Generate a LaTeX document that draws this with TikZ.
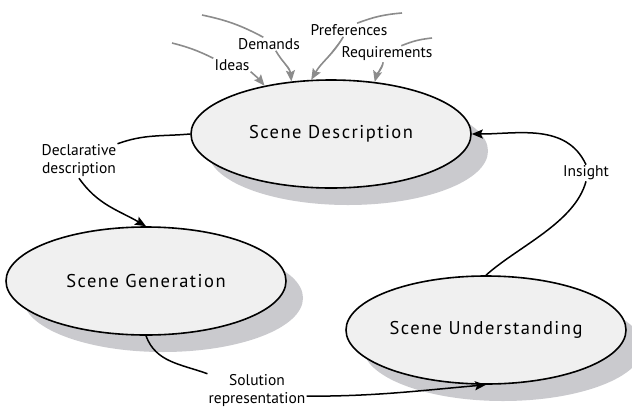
\documentclass[tikz,border=0pt]{standalone}
\usepackage{fontspec}
\setmainfont{PT Sans}
\usetikzlibrary{shapes.geometric,shadows,arrows.meta}
\definecolor{stagefill}{RGB}{240,240,240}
\definecolor{stageshade}{RGB}{202,202,206}
\definecolor{inputgray}{RGB}{140,140,140}

\begin{document}
\begin{tikzpicture}[x=1pt,y=-1pt,
		stage/.style={ellipse,draw=black,line width=1.6pt,fill=stagefill,
			minimum width=280pt,minimum height=108pt,inner sep=0pt,
			font=\fontsize{18.5}{22}\selectfont\addfontfeature{LetterSpace=8},
			drop shadow={shadow xshift=17pt,shadow yshift=-17pt,fill=stageshade,opacity=1}},
		lbl/.style={inner sep=1pt,align=center,font=\fontsize{15.5}{18}\selectfont},
		flow/.style={line width=1.5pt},
		tip/.style={-{Stealth[length=11pt,width=9pt,inset=2pt]}},
		input/.style={line width=1.6pt,draw=inputgray}]
	\useasboundingbox (0,0) rectangle (632,408);
	% the three stages
	\node[stage] (desc) at (331,134) {Scene Description};
	\node[stage] (gen) at (146,281) {Scene Generation};
	\node[stage] (und) at (486,330) {Scene Understanding};
	% labels of the cycle
	\node[lbl] (decl) at (79,161) {Declarative\\description};
	\node[lbl] (sol) at (257,391) {Solution\\representation};
	\node[lbl] (ins) at (586,173) {Insight};
	% cycle
	\draw[flow] (desc.west) to[out=185,in=20] (decl.north east);
	\draw[flow,tip] (decl.south) to[out=-55,in=150] (gen.north);
	\draw[flow] (gen.south) to[out=-70,in=160] (sol.north west);
	\draw[flow,tip] (sol.-6) to[out=0,in=185] (und.south);
	\draw[flow] (und.north) to[out=42,in=-105,looseness=0.8] (ins.south);
	\draw[flow,tip] (ins.north) to[out=115,in=0] (desc.east);
	% inputs from above
	\coordinate (ideasin) at (172,43);
	\coordinate (demin) at (202,15);
	\coordinate (prefin) at (402,13);
	\coordinate (reqin) at (432,38);
	\node[lbl] (ideas) at (232,65) {Ideas};
	\node[lbl] (dem) at (269,44) {Demands};
	\node[lbl] (pref) at (349,30) {Preferences};
	\node[lbl] (req) at (387,54) {Requirements};
	\draw[input] (ideasin) to[bend left=6] (ideas.north west);
	\draw[input] (demin) to[bend left=8] (dem.130);
	\draw[input] (prefin) to[bend right=8] (pref.40);
	\draw[input] (reqin) to[bend right=8] (req.30);
	\draw[input,tip,fill=inputgray] (ideas.south east) to[bend left=5] (desc.144);
	\draw[input,tip,fill=inputgray] (dem.-45) to[out=-60,in=95] (desc.127);
	\draw[input,tip,fill=inputgray] (pref.-130) to[out=-120,in=60] (desc.110);
	\draw[input,tip,fill=inputgray] (req.-115) to[out=-100,in=75] (desc.50);
\end{tikzpicture}
\end{document}
